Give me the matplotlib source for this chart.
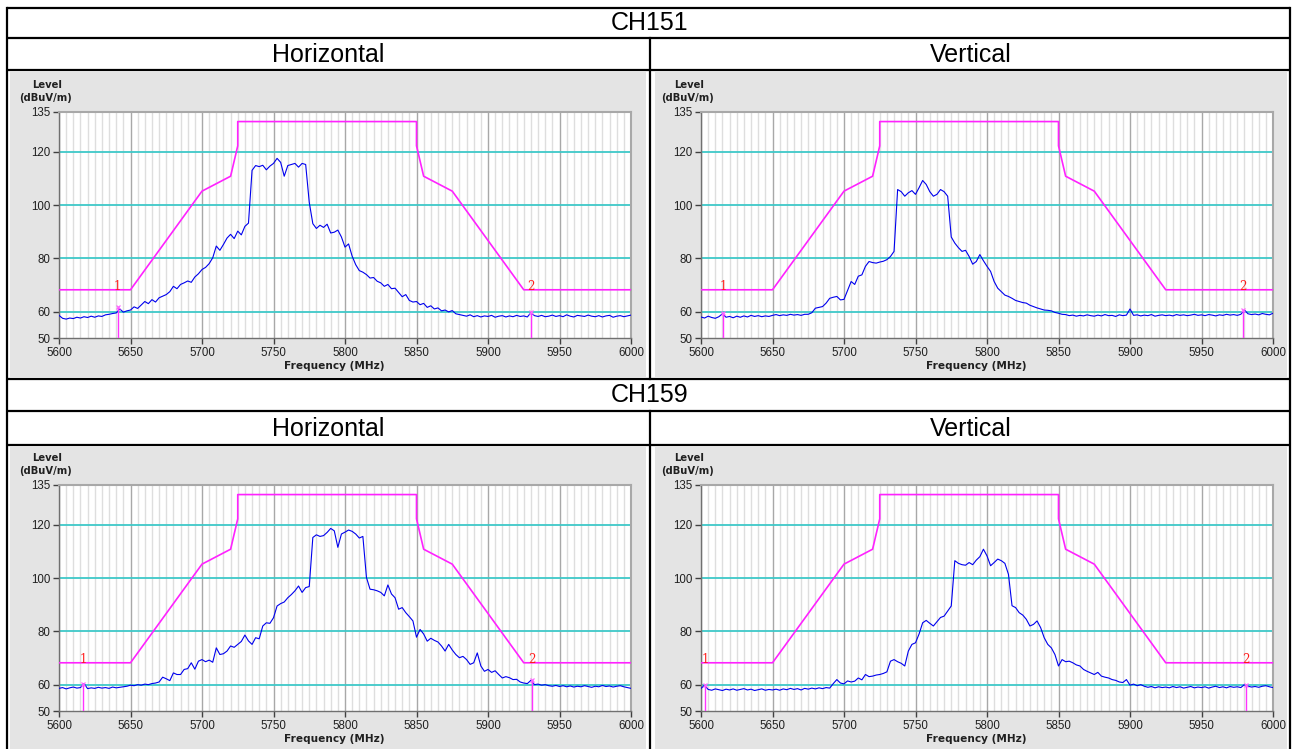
import numpy as np
import matplotlib
matplotlib.use("Agg")
import matplotlib.pyplot as plt
from matplotlib.ticker import MultipleLocator
from matplotlib.patches import Rectangle

W, H = 1293, 749

# ---------------- data ----------------
FREQ_START = 5600.0
FREQ_STEP = 2.5

ch151_h = [
    58.6, 57.5, 57.2, 57.6, 57.4, 57.9, 57.6, 58.1, 57.8, 58.3,
    57.9, 58.4, 58.2, 58.8, 59.0, 59.3, 59.5, 61.0, 59.8, 60.3,
    60.6, 61.8, 61.2, 62.5, 63.8, 63.0, 64.5, 63.6, 65.2, 65.8,
    66.4, 67.5, 69.5, 68.6, 70.2, 70.8, 71.5, 71.0, 73.0, 74.2,
    75.8, 76.6, 78.0, 80.2, 84.6, 83.0, 85.2, 87.6, 89.0, 87.4,
    90.2, 88.8, 92.0, 93.2, 113.0, 114.8, 114.4, 114.9, 113.2, 114.6,
    115.6, 117.5, 116.0, 110.8, 114.8, 115.2, 115.6, 114.2, 115.6, 115.2,
    101.0, 93.0, 91.2, 92.4, 91.6, 92.8, 89.5, 89.8, 90.6, 88.0,
    84.2, 85.4, 80.8, 77.6, 75.4, 74.8, 73.9, 72.6, 72.8, 71.4,
    70.8, 69.5, 70.2, 68.6, 68.8, 67.2, 65.6, 66.4, 64.2, 63.6,
    63.8, 62.6, 63.1, 61.6, 62.2, 61.0, 61.4, 60.3, 60.6, 59.9,
    60.4, 59.2, 58.9, 58.6, 58.3, 58.8, 58.1, 58.5, 58.0, 58.4,
    58.2, 58.6, 57.9, 58.3, 58.5, 58.0, 58.4, 58.1, 58.6, 58.2,
    58.4, 58.0, 59.6, 58.5, 58.2, 58.6, 58.1, 58.3, 58.7, 58.2,
    58.5, 58.1, 58.8, 58.3, 58.0, 58.6, 58.4, 58.2, 58.7, 58.3,
    58.1, 58.5, 58.0, 58.4, 58.6, 57.9, 58.3, 58.5, 58.1, 58.4,
    58.7,
]

ch151_v = [
    58.0, 57.6, 58.3, 57.8, 57.5, 58.1, 59.2, 57.9, 58.2, 57.7,
    58.3, 57.9, 58.4, 58.0, 58.6, 58.2, 58.5, 58.1, 58.4, 58.2,
    58.6, 58.9, 58.5, 58.8, 58.6, 59.0, 58.7, 58.9, 58.6, 59.0,
    59.0, 59.6, 61.3, 61.6, 61.9, 63.2, 65.0, 65.4, 65.7, 64.4,
    64.6, 68.0, 71.3, 70.2, 73.3, 73.8, 77.0, 78.8, 78.4, 78.2,
    78.6, 78.9, 79.5, 80.7, 82.6, 105.8, 105.0, 103.3, 104.6, 105.4,
    104.0, 106.5, 109.2, 107.7, 105.0, 103.3, 104.0, 105.8, 105.0, 103.3,
    88.0, 85.7, 84.0, 82.6, 83.0, 80.7, 77.8, 78.8, 81.4, 79.1,
    77.0, 75.1, 71.3, 68.8, 67.5, 66.2, 65.7, 65.0, 64.2, 63.8,
    63.4, 63.2, 62.4, 61.9, 61.4, 61.0, 60.6, 60.5, 60.3, 59.7,
    59.4, 59.0, 58.9, 58.5, 58.7, 58.3, 58.6, 58.4, 58.8, 58.5,
    58.3, 58.7, 58.4, 58.9, 58.5, 58.6, 58.2, 58.8, 58.5, 58.7,
    61.0, 58.6, 58.8, 58.4, 58.7, 58.5, 58.9, 58.3, 58.6, 58.8,
    58.5, 58.7, 58.4, 58.9, 58.6, 58.8, 58.5, 58.7, 59.0, 58.6,
    58.8, 58.5, 58.9, 58.7, 58.4, 58.8, 58.6, 59.0, 58.7, 58.9,
    58.6, 59.0, 60.6, 59.2, 58.9, 59.1, 58.8, 59.3, 59.0, 58.8,
    59.4,
]

ch159_h = [
    58.6, 58.9, 58.4, 58.8, 59.1, 58.7, 58.9, 60.4, 58.5, 58.8,
    58.6, 59.0, 58.7, 58.9, 58.6, 59.1, 58.8, 59.0, 59.2, 59.4,
    59.8, 59.6, 60.0, 59.8, 60.2, 60.0, 60.4, 60.6, 61.0, 62.8,
    62.2, 61.5, 64.4, 63.8, 63.8, 65.7, 66.0, 68.2, 65.8, 68.8,
    69.4, 68.6, 69.2, 68.4, 73.8, 71.3, 71.6, 72.6, 74.5, 74.0,
    75.1, 76.2, 78.6, 76.4, 75.1, 77.6, 77.2, 82.0, 83.2, 83.0,
    85.1, 89.5, 90.4, 91.0, 92.6, 93.8, 95.2, 97.0, 94.6, 96.4,
    96.8, 115.2, 116.2, 115.6, 115.9, 117.1, 118.6, 117.7, 111.5, 116.5,
    117.2, 118.0, 117.5, 116.5, 115.0, 115.6, 100.2, 95.8, 95.6, 95.2,
    94.6, 93.3, 97.4, 94.0, 92.6, 88.3, 88.9, 87.0, 85.5, 83.9,
    77.8, 80.7, 79.0, 76.3, 77.4, 76.6, 76.0, 74.5, 72.6, 75.1,
    73.0, 71.3, 70.1, 70.6, 69.4, 67.6, 68.2, 71.9, 67.0, 65.0,
    65.7, 64.6, 65.2, 63.8, 62.5, 63.0, 62.6, 61.9, 62.0, 61.0,
    60.6, 60.4, 61.6, 60.0, 60.2, 59.8, 60.0, 59.6, 59.4, 59.7,
    59.3, 59.6, 59.2, 59.5, 59.1, 59.4, 59.2, 59.6, 59.3, 59.0,
    59.4, 59.2, 59.7, 59.3, 59.5, 59.1, 59.4, 59.6, 59.2, 58.9,
    58.6,
]

ch159_v = [
    58.6, 59.8, 58.2, 57.9, 58.4, 58.1, 57.8, 58.3, 58.0, 58.4,
    57.9, 58.2, 58.5, 58.0, 58.3, 57.8, 58.1, 58.4, 57.9, 58.2,
    58.0, 58.3, 57.9, 58.4, 58.1, 58.6, 58.2, 58.5, 58.0, 58.6,
    58.3, 58.7, 58.4, 58.8, 58.5, 58.9, 58.7, 60.4, 61.9, 60.6,
    60.3, 61.4, 61.0, 61.3, 62.5, 61.8, 63.8, 63.0, 63.2, 63.6,
    63.8, 64.2, 64.8, 68.8, 69.4, 68.6, 68.0, 67.0, 72.6, 75.1,
    75.7, 79.0, 83.2, 84.1, 83.0, 82.0, 83.6, 85.2, 85.7, 87.6,
    89.5, 106.5, 105.5, 105.0, 104.8, 105.8, 105.0, 106.7, 108.0, 110.8,
    108.3, 104.6, 105.8, 107.1, 106.5, 105.5, 101.4, 89.6, 88.9, 87.0,
    86.1, 84.5, 82.0, 82.6, 83.9, 81.4, 77.6, 75.1, 73.8, 71.3,
    67.0, 69.4, 68.6, 68.8, 68.2, 67.4, 67.0, 65.7, 65.0, 64.4,
    63.8, 64.6, 63.2, 62.8, 62.5, 61.9, 61.6, 61.0, 60.8, 61.9,
    59.8, 60.2, 59.6, 60.0, 59.4, 59.0, 59.3, 58.8, 59.2, 58.9,
    59.1, 58.8, 59.3, 58.9, 59.2, 58.7, 59.0, 59.3, 58.8, 59.1,
    58.9, 59.2, 58.7, 59.1, 59.4, 58.9, 59.2, 58.8, 59.3, 59.0,
    59.2, 58.9, 60.0, 59.4, 59.1, 59.3, 59.0, 59.4, 59.6, 59.2,
    58.9,
]

# limit line (dBuV/m)
limit_freq = [5600, 5650, 5700, 5720, 5725, 5725, 5850, 5850, 5855, 5875, 5925, 6000]
limit_level = [68.2, 68.2, 105.2, 110.8, 122.2, 131.3, 131.3, 122.2, 110.8, 105.2, 68.2, 68.2]

# markers: (freq, level) for marker 1 and 2
markers_151_h = [(5641.0, 61.8), (5930.0, 59.7)]
markers_151_v = [(5615.5, 59.4), (5979.0, 60.6)]
markers_159_h = [(5617.0, 60.4), (5931.0, 61.6)]
markers_159_v = [(5603.0, 60.0), (5981.0, 60.0)]

y_ticks = [50, 60, 80, 100, 120, 135]
y_grid = [60, 80, 100, 120]
x_ticks = [5600, 5650, 5700, 5750, 5800, 5850, 5900, 5950, 6000]

channel_titles = ["CH151", "CH159"]
pol_titles = ["Horizontal", "Vertical"]

# ---------------- figure ----------------
fig = plt.figure(figsize=(W / 100, H / 100), dpi=100)
fig.patch.set_facecolor("white")
bg = fig.add_axes([0, 0, 1, 1])
bg.set_xlim(0, W)
bg.set_ylim(H, 0)
bg.axis("off")

HEAD_FONT = "Liberation Sans"
BLK = "black"
LW_T = 1.6

# gray panels
for (x0, x1) in [(10, 646), (655, 1287)]:
    for (y0, y1) in [(72, 377), (447, 749)]:
        bg.add_patch(Rectangle((x0, y0), x1 - x0, y1 - y0, facecolor="#e4e4e4",
                               edgecolor="none", zorder=1))

# table lines
for y in [7.5, 38, 70, 379, 411, 445]:
    bg.plot([7, 1290], [y, y], color=BLK, lw=LW_T, zorder=3, solid_capstyle="butt")
bg.plot([7, 7], [7.5, 749], color=BLK, lw=LW_T, zorder=3)
bg.plot([1290, 1290], [7.5, 749], color=BLK, lw=LW_T, zorder=3)
bg.plot([650, 650], [38, 379], color=BLK, lw=LW_T, zorder=3)
bg.plot([650, 650], [411, 749], color=BLK, lw=LW_T, zorder=3)

# header texts
bg.text(650, 22.5, channel_titles[0], ha="center", va="center", fontsize=18,
        family=HEAD_FONT, zorder=4)
bg.text(650, 395.5, channel_titles[1], ha="center", va="center", fontsize=18,
        family=HEAD_FONT, zorder=4)
for yy in [54.5, 428.5]:
    bg.text(328, yy, pol_titles[0], ha="center", va="center", fontsize=18,
            family=HEAD_FONT, zorder=4)
    bg.text(971, yy, pol_titles[1], ha="center", va="center", fontsize=18,
            family=HEAD_FONT, zorder=4)

panels = [
    (ch151_h, markers_151_h, 0, 0),
    (ch151_v, markers_151_v, 642, 0),
    (ch159_h, markers_159_h, 0, 373),
    (ch159_v, markers_159_v, 642, 373),
]

AX_X0, AX_X1 = 59, 631
AX_Y0, AX_Y1 = 111.7, 338.3

for data, marks, dx, dy in panels:
    # panel labels
    bg.text(47 + dx, 85 + dy, "Level", ha="center", va="center", fontsize=7.2,
            fontweight="bold", family="DejaVu Sans", color="#202020", zorder=4)
    bg.text(46 + dx, 98 + dy, "(dBuV/m)", ha="center", va="center", fontsize=7.2,
            fontweight="bold", family="DejaVu Sans", color="#202020", zorder=4)
    bg.text(334 + dx, 366 + dy, "Frequency (MHz)", ha="center", va="center",
            fontsize=7.6, fontweight="bold", family="DejaVu Sans", color="#202020",
            zorder=4)

    x0, x1 = AX_X0 + dx, AX_X1 + dx
    y0, y1 = AX_Y0 + dy, AX_Y1 + dy
    ax = fig.add_axes([x0 / W, 1 - y1 / H, (x1 - x0) / W, (y1 - y0) / H])
    ax.set_facecolor("white")
    ax.set_xlim(5600, 6000)
    ax.set_ylim(50, 135)

    ax.xaxis.set_major_locator(plt.FixedLocator(x_ticks))
    ax.xaxis.set_minor_locator(MultipleLocator(5))
    ax.yaxis.set_major_locator(plt.FixedLocator(y_ticks))
    ax.grid(which="minor", axis="x", color="#dedede", lw=1.0, zorder=0)
    ax.grid(which="major", axis="x", color="#a8a8a8", lw=1.0, zorder=0)
    ax.set_axisbelow(True)
    for g in y_grid:
        ax.axhline(g, color="#3ec8c8", lw=1.3, zorder=1)

    ax.tick_params(which="major", direction="out", length=4, width=1,
                   color="#404040", labelsize=8.3, pad=2, labelcolor="#202020")
    ax.tick_params(which="minor", length=0)
    for lab in ax.get_xticklabels() + ax.get_yticklabels():
        lab.set_family("Liberation Sans")
    for side in ["top", "right"]:
        ax.spines[side].set_color("#a8a8a8")
        ax.spines[side].set_linewidth(1.5)
    for side in ["left", "bottom"]:
        ax.spines[side].set_color("#707070")
        ax.spines[side].set_linewidth(1.0)

    freqs = FREQ_START + FREQ_STEP * np.arange(len(data))
    ax.plot(limit_freq, limit_level, color="#ff22ff", lw=1.2, zorder=3)
    ax.plot(freqs, data, color="#0000ee", lw=0.8, zorder=4)

    for i, (mf, mv) in enumerate(marks):
        ax.plot([mf, mf], [50, mv], color="#ff33ff", lw=1.0, zorder=5)
        ax.plot([mf], [mv], marker="x", ms=3.5, mew=0.9, color="#ff66ff", zorder=6)
        ax.text(mf, 69.3, str(i + 1), ha="center", va="center", fontsize=8.5,
                color="#ff1a1a", family="DejaVu Serif", zorder=6)

fig.savefig("out.png", dpi=100)
